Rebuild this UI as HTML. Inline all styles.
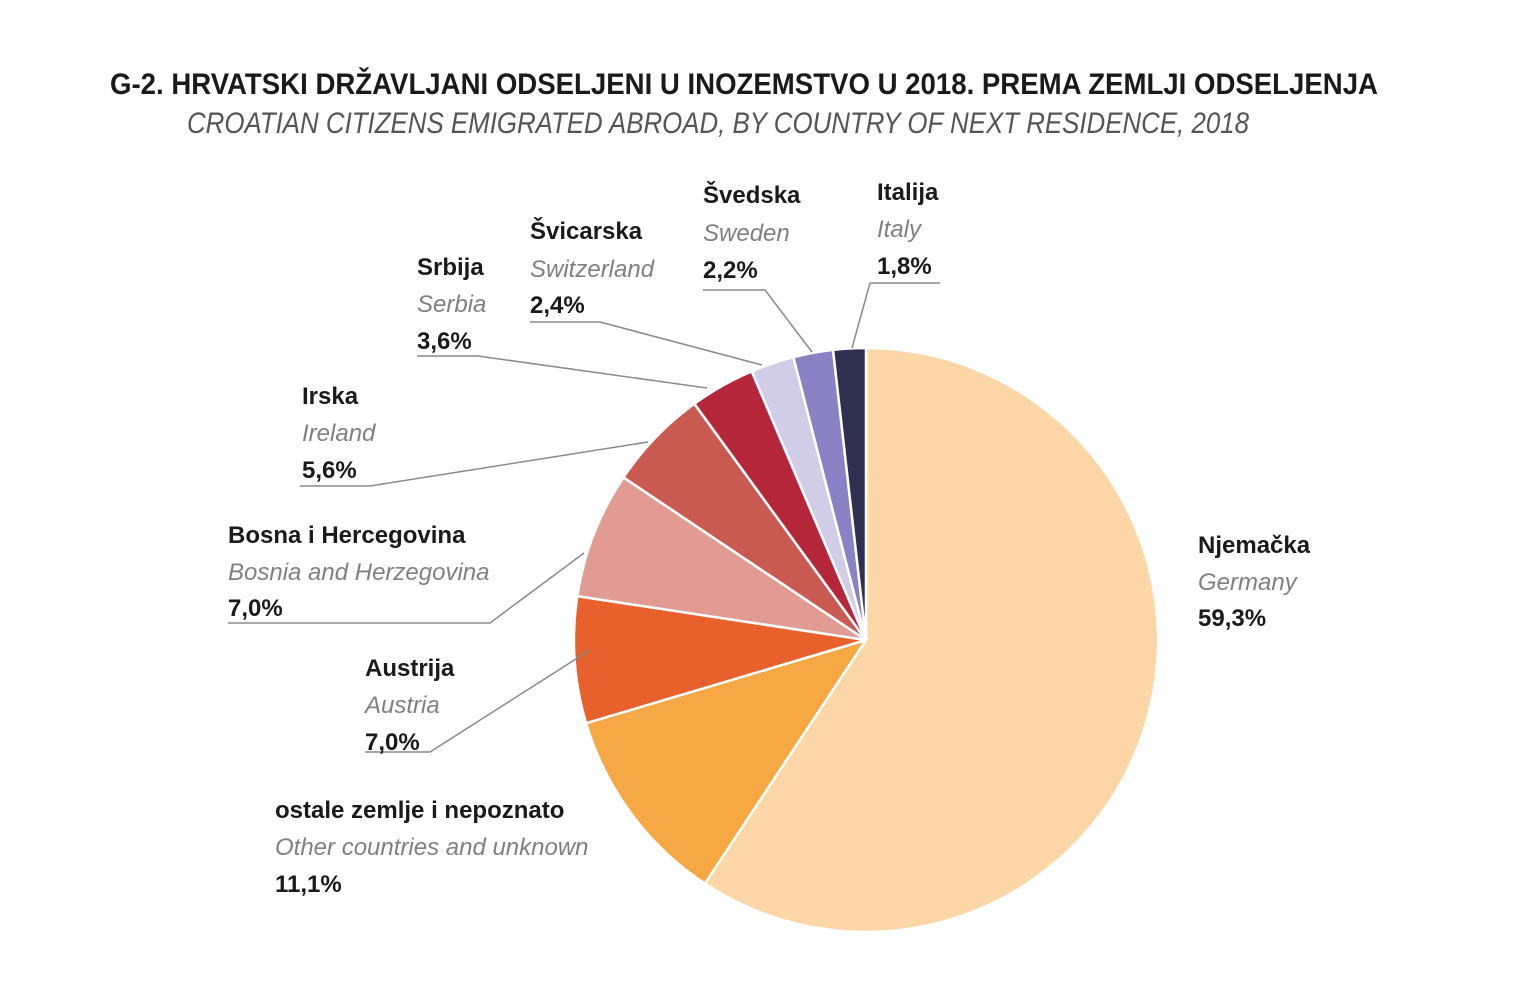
<!DOCTYPE html>
<html><head><meta charset="utf-8">
<style>
html,body{margin:0;padding:0;background:#fff;}
svg{display:block;}
.b{font-family:"Liberation Sans",sans-serif;font-weight:bold;font-size:24px;fill:#1a1a1a;}
.i{font-family:"Liberation Sans",sans-serif;font-style:italic;font-size:24px;fill:#808080;}
.l{stroke:#8a8a8a;stroke-width:1.5;fill:none;}
</style></head><body>
<svg id="s" width="1536" height="987" viewBox="0 0 1536 987" xmlns="http://www.w3.org/2000/svg">
<text x="110" y="94" class="b" style="font-size:30px" textLength="1268" lengthAdjust="spacingAndGlyphs">G-2.  HRVATSKI DRŽAVLJANI ODSELJENI U INOZEMSTVO U 2018. PREMA ZEMLJI ODSELJENJA</text>
<text x="187" y="133" class="i" style="font-size:30px;fill:#555" textLength="1062" lengthAdjust="spacingAndGlyphs">CROATIAN CITIZENS EMIGRATED ABROAD, BY COUNTRY OF NEXT RESIDENCE, 2018</text>
<g id="pie"></g>
<g>
<path class="l" d="M870 283 H940 M870 283 L852 348"/>
<path class="l" d="M703 290 H765 L812 352"/>
<path class="l" d="M530 322 H600 L762 365"/>
<path class="l" d="M417 356 H478 L707 388"/>
<path class="l" d="M300 486 H370 L648 442"/>
<path class="l" d="M228 623 H490 L584 553"/>
<path class="l" d="M365 752 H430 L590 650"/>
</g>
<g>
<text x="877" y="200" class="b">Italija</text><text x="877" y="237" class="i">Italy</text><text x="877" y="274" class="b">1,8%</text>
<text x="703" y="203" class="b">Švedska</text><text x="703" y="241" class="i">Sweden</text><text x="703" y="278" class="b">2,2%</text>
<text x="530" y="239" class="b">Švicarska</text><text x="530" y="277" class="i">Switzerland</text><text x="530" y="313" class="b">2,4%</text>
<text x="417" y="275" class="b">Srbija</text><text x="417" y="312" class="i">Serbia</text><text x="417" y="349" class="b">3,6%</text>
<text x="302" y="404" class="b">Irska</text><text x="302" y="441" class="i">Ireland</text><text x="302" y="478" class="b">5,6%</text>
<text x="228" y="543" class="b">Bosna i Hercegovina</text><text x="228" y="580" class="i">Bosnia and Herzegovina</text><text x="228" y="616" class="b">7,0%</text>
<text x="365" y="676" class="b">Austrija</text><text x="365" y="713" class="i">Austria</text><text x="365" y="750" class="b">7,0%</text>
<text x="275" y="818" class="b">ostale zemlje i nepoznato</text><text x="275" y="855" class="i">Other countries and unknown</text><text x="275" y="892" class="b">11,1%</text>
<text x="1198" y="553" class="b">Njemačka</text><text x="1198" y="590" class="i">Germany</text><text x="1198" y="626" class="b">59,3%</text>
</g>
</svg>
<script>
var d=[[59.3,"#fcd6a6"],[11.1,"#f5a843"],[7,"#e8602c"],[7,"#e29b92"],[5.6,"#c95a52"],[3.6,"#b6263a"],[2.4,"#d2cde6"],[2.2,"#8a82c4"],[1.8,"#2f2f4f"]];
var cx=866,cy=640,r=292,a=0,g=document.getElementById("pie"),h="";
function p(t){t=t*Math.PI/180;return [cx+r*Math.sin(t),cy-r*Math.cos(t)];}
d.forEach(function(e){var b=a+e[0]*3.6,s=p(a),t=p(b);
h+='<path d="M'+cx+' '+cy+' L'+s[0]+' '+s[1]+' A'+r+' '+r+' 0 '+(b-a>180?1:0)+' 1 '+t[0]+' '+t[1]+' Z" fill="'+e[1]+'" stroke="#fff" stroke-width="2.5"/>';a=b;});
g.innerHTML=h;
</script>
</body></html>
